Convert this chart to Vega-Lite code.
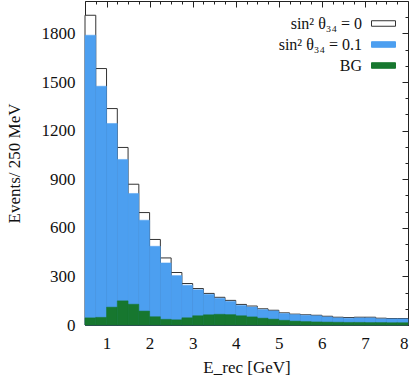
{
  "$schema": "https://vega.github.io/schema/vega-lite/v6.json",
  "width": 323,
  "height": 324,
  "autosize": {"type": "none"},
  "padding": {"left": 85, "top": 1, "right": 7, "bottom": 52},
  "data": {
    "values": [
      {"lo": 0.5, "hi": 0.75, "n0": 1912, "n1": 1789, "bg": 44},
      {"lo": 0.75, "hi": 1.0, "n0": 1583, "n1": 1474, "bg": 47},
      {"lo": 1.0, "hi": 1.25, "n0": 1336, "n1": 1244, "bg": 110},
      {"lo": 1.25, "hi": 1.5, "n0": 1096, "n1": 1022, "bg": 149},
      {"lo": 1.5, "hi": 1.75, "n0": 869, "n1": 812, "bg": 128},
      {"lo": 1.75, "hi": 2.0, "n0": 694, "n1": 647, "bg": 86},
      {"lo": 2.0, "hi": 2.25, "n0": 528, "n1": 486, "bg": 51},
      {"lo": 2.25, "hi": 2.5, "n0": 414, "n1": 383, "bg": 35},
      {"lo": 2.5, "hi": 2.75, "n0": 324, "n1": 305, "bg": 32},
      {"lo": 2.75, "hi": 3.0, "n0": 256, "n1": 246, "bg": 44},
      {"lo": 3.0, "hi": 3.25, "n0": 225, "n1": 218, "bg": 57},
      {"lo": 3.25, "hi": 3.5, "n0": 195, "n1": 189, "bg": 63},
      {"lo": 3.5, "hi": 3.75, "n0": 171, "n1": 165, "bg": 66},
      {"lo": 3.75, "hi": 4.0, "n0": 152, "n1": 146, "bg": 64},
      {"lo": 4.0, "hi": 4.25, "n0": 127, "n1": 121, "bg": 57},
      {"lo": 4.25, "hi": 4.5, "n0": 117, "n1": 111, "bg": 50},
      {"lo": 4.5, "hi": 4.75, "n0": 100, "n1": 95, "bg": 42},
      {"lo": 4.75, "hi": 5.0, "n0": 91, "n1": 87, "bg": 36},
      {"lo": 5.0, "hi": 5.25, "n0": 75, "n1": 71, "bg": 29},
      {"lo": 5.25, "hi": 5.5, "n0": 67, "n1": 64, "bg": 24},
      {"lo": 5.5, "hi": 5.75, "n0": 63, "n1": 60, "bg": 21},
      {"lo": 5.75, "hi": 6.0, "n0": 60, "n1": 57, "bg": 19},
      {"lo": 6.0, "hi": 6.25, "n0": 54, "n1": 50, "bg": 18},
      {"lo": 6.25, "hi": 6.5, "n0": 48, "n1": 44, "bg": 17},
      {"lo": 6.5, "hi": 6.75, "n0": 46, "n1": 42, "bg": 16},
      {"lo": 6.75, "hi": 7.0, "n0": 48, "n1": 44, "bg": 16},
      {"lo": 7.0, "hi": 7.25, "n0": 48, "n1": 44, "bg": 15},
      {"lo": 7.25, "hi": 7.5, "n0": 42, "n1": 38, "bg": 15},
      {"lo": 7.5, "hi": 7.75, "n0": 40, "n1": 38, "bg": 14},
      {"lo": 7.75, "hi": 8.0, "n0": 40, "n1": 38, "bg": 14}
    ]
  },
  "encoding": {
    "x": {"field": "lo", "type": "quantitative", "scale": {"domain": [0.5, 8], "nice": false, "zero": false}},
    "x2": {"field": "hi"},
    "y2": {"datum": 0}
  },
  "layer": [
    {
      "mark": {"type": "bar", "strokeWidth": 1},
      "encoding": {
        "x": {
          "field": "lo", "type": "quantitative",
          "axis": {
            "orient": "bottom",
            "values": [0.5,0.75,1,1.25,1.5,1.75,2,2.25,2.5,2.75,3,3.25,3.5,3.75,4,4.25,4.5,4.75,5,5.25,5.5,5.75,6,6.25,6.5,6.75,7,7.25,7.5,7.75,8],
            "labelExpr": "datum.value % 1 === 0 ? format(datum.value, 'd') : ''",
            "ticks": false,
            "grid": true,
            "gridColor": "#222222",
            "gridOpacity": 1,
            "gridWidth": 1,
            "gridDash": {"condition": {"test": "datum.value % 1 === 0", "value": [6, 1000]}, "value": [3, 1000]},
            "labelPadding": 10,
            "title": "E_rec [GeV]",
            "titlePadding": 8
          }
        },
        "y": {
          "field": "n0", "type": "quantitative",
          "scale": {"domain": [0, 2000], "nice": false},
          "axis": {
            "orient": "left",
            "values": [0,100,200,300,400,500,600,700,800,900,1000,1100,1200,1300,1400,1500,1600,1700,1800,1900],
            "labelExpr": "datum.value % 300 === 0 ? format(datum.value, 'd') : ''",
            "ticks": false,
            "grid": true,
            "gridColor": "#222222",
            "gridOpacity": 1,
            "gridWidth": 1,
            "gridDash": {"condition": {"test": "datum.value % 300 === 0", "value": [6, 1000]}, "value": [3, 1000]},
            "labelPadding": 10,
            "title": "Events/ 250 MeV",
            "titlePadding": 18
          }
        },
        "fill": {
          "datum": "sin² θ₃₄ = 0", "type": "nominal",
          "scale": {"domain": ["sin² θ₃₄ = 0", "sin² θ₃₄ = 0.1", "BG"], "range": ["#ffffff", "#4c9ff0", "#17772f"]}
        },
        "stroke": {
          "datum": "sin² θ₃₄ = 0", "type": "nominal",
          "scale": {"domain": ["sin² θ₃₄ = 0", "sin² θ₃₄ = 0.1", "BG"], "range": ["#333333", "#4c9ff0", "#17772f"]}
        }
      }
    },
    {
      "mark": {"type": "bar", "strokeWidth": 0.5},
      "encoding": {
        "x": {
          "field": "lo", "type": "quantitative",
          "axis": {
            "orient": "top",
            "values": [0.5,0.75,1,1.25,1.5,1.75,2,2.25,2.5,2.75,3,3.25,3.5,3.75,4,4.25,4.5,4.75,5,5.25,5.5,5.75,6,6.25,6.5,6.75,7,7.25,7.5,7.75,8],
            "labels": false,
            "ticks": false,
            "grid": true,
            "gridColor": "#222222",
            "gridOpacity": 1,
            "gridWidth": 1,
            "gridDash": {"condition": {"test": "datum.value % 1 === 0", "value": [6, 1000]}, "value": [3, 1000]},
            "title": null
          }
        },
        "y": {
          "field": "n1", "type": "quantitative",
          "axis": {
            "orient": "right",
            "values": [0,100,200,300,400,500,600,700,800,900,1000,1100,1200,1300,1400,1500,1600,1700,1800,1900],
            "labels": false,
            "ticks": false,
            "grid": true,
            "gridColor": "#222222",
            "gridOpacity": 1,
            "gridWidth": 1,
            "gridDash": {"condition": {"test": "datum.value % 300 === 0", "value": [6, 1000]}, "value": [3, 1000]},
            "title": null
          }
        },
        "fill": {"datum": "sin² θ₃₄ = 0.1", "type": "nominal"},
        "stroke": {"datum": "sin² θ₃₄ = 0.1", "type": "nominal"}
      }
    },
    {
      "mark": {"type": "bar", "strokeWidth": 0.5},
      "encoding": {
        "x": {"field": "lo", "type": "quantitative", "axis": null},
        "y": {"field": "bg", "type": "quantitative", "axis": null},
        "fill": {"datum": "BG", "type": "nominal"},
        "stroke": {"datum": "BG", "type": "nominal"}
      }
    }
  ],
  "resolve": {"axis": {"x": "independent", "y": "independent"}},
  "config": {
    "view": {"stroke": "#222", "strokeWidth": 1},
    "font": "Liberation Serif",
    "axis": {
      "zindex": 1,
      "domain": false,
      "labelFont": "Liberation Serif",
      "labelFontSize": 17,
      "labelColor": "#111",
      "titleFont": "Liberation Serif",
      "titleFontSize": 17,
      "titleFontWeight": "normal",
      "titleColor": "#111"
    },
    "legend": {
      "orient": "top-right",
      "title": null,
      "labelAlign": "right",
      "labelOffset": -34,
      "symbolType": "M-1,-0.23H1V0.23H-1Z",
      "symbolSize": 576,
      "symbolStrokeWidth": 1,
      "symbolOpacity": 1,
      "labelFont": "Liberation Serif",
      "labelFontSize": 16,
      "labelColor": "#111",
      "rowPadding": -8,
      "offset": 8,
      "padding": 2
    }
  }
}
